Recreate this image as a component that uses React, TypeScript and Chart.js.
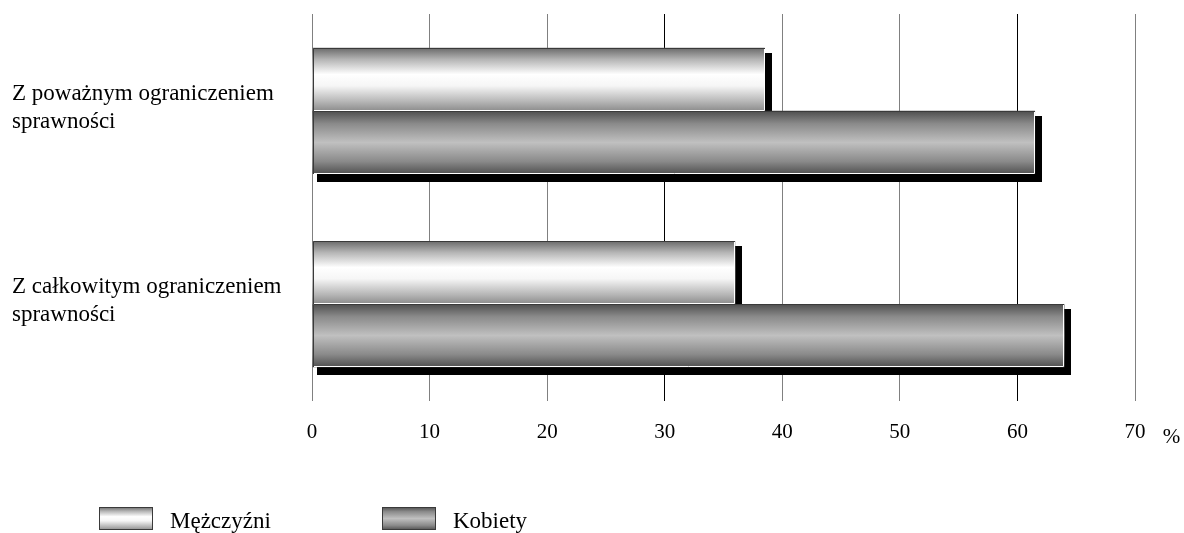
import React, { useEffect, useRef } from 'react';
import { Chart, registerables } from 'chart.js';

Chart.register(...registerables);

// ---- data ----
const categories = [
  ['Z poważnym ograniczeniem', 'sprawności'],
  ['Z całkowitym ograniczeniem', 'sprawności'],
];
const seriesNames = ['Mężczyźni', 'Kobiety'];
const menValues = [38.5, 36.0];
const womenValues = [61.5, 64.0];
const xMin = 0;
const xMax = 70;
const xStep = 10;
const unitLabel = '%';

// ---- styles ----
const FONT = "'Liberation Serif', 'Times New Roman', serif";
const gradStops: [number, string][][] = [
  [[0, '#6a6a6a'], [0.18, '#b4b4b4'], [0.42, '#ffffff'], [0.6, '#f6f6f6'], [0.85, '#b6b6b6'], [1, '#8c8c8c']],
  [[0, '#4e4e4e'], [0.2, '#8a8a8a'], [0.5, '#c0c0c0'], [0.8, '#8a8a8a'], [1, '#505050']],
];
const legendBoxX = [99, 382];
const legendTop = 507;
const legendBoxW = 54;
const legendBoxH = 23;

function makeGrad(ctx: CanvasRenderingContext2D, di: number, top: number, bottom: number) {
  const g = ctx.createLinearGradient(0, top, 0, bottom);
  gradStops[di].forEach(([o, c]) => g.addColorStop(o, c));
  return g;
}

function barRect(el: any) {
  const half = el.height / 2;
  const left = Math.round(Math.min(el.x, el.base));
  const right = Math.round(Math.max(el.x, el.base));
  const top = Math.round(el.y - half);
  const bottom = Math.round(el.y + half);
  return { left, right, top, bottom };
}

const barDecor = {
  id: 'barDecor',
  beforeDatasetsDraw(chart: any) {
    const ctx: CanvasRenderingContext2D = chart.ctx;
    ctx.save();
    chart.data.datasets.forEach((_: any, di: number) => {
      const meta = chart.getDatasetMeta(di);
      meta.data.forEach((el: any) => {
        const { left, right, top, bottom } = barRect(el);
        ctx.fillStyle = '#000';
        ctx.fillRect(left + 4, top + 5, right - left + 3, bottom - top + 3);
        el.options.backgroundColor = makeGrad(ctx, di, top, bottom);
      });
    });
    ctx.restore();
  },
  afterDatasetsDraw(chart: any) {
    const ctx: CanvasRenderingContext2D = chart.ctx;
    ctx.save();
    ctx.lineWidth = 1;
    chart.data.datasets.forEach((_: any, di: number) => {
      const meta = chart.getDatasetMeta(di);
      meta.data.forEach((el: any) => {
        const { left, right, top, bottom } = barRect(el);
        ctx.strokeStyle = '#3a3a3a';
        ctx.beginPath();
        ctx.moveTo(left + 0.5, bottom);
        ctx.lineTo(left + 0.5, top + 0.5);
        ctx.lineTo(right, top + 0.5);
        ctx.stroke();
        ctx.strokeStyle = '#ffffff';
        ctx.beginPath();
        ctx.moveTo(right - 0.5, top + 1);
        ctx.lineTo(right - 0.5, bottom - 0.5);
        ctx.lineTo(left + 1, bottom - 0.5);
        ctx.stroke();
      });
    });
    ctx.restore();
  },
  afterDraw(chart: any) {
    const ctx: CanvasRenderingContext2D = chart.ctx;
    ctx.save();
    // unit label
    const xs = chart.scales.x;
    ctx.fillStyle = '#000';
    ctx.font = `21px ${FONT}`;
    ctx.textAlign = 'center';
    ctx.textBaseline = 'middle';
    ctx.fillText(unitLabel, xs.getPixelForValue(xMax) + 36.5, 437);
    // legend
    chart.data.datasets.forEach((ds: any, di: number) => {
      const x = legendBoxX[di];
      ctx.fillStyle = makeGrad(ctx, di, legendTop, legendTop + legendBoxH);
      ctx.fillRect(x, legendTop, legendBoxW, legendBoxH);
      ctx.strokeStyle = '#3a3a3a';
      ctx.lineWidth = 1;
      ctx.strokeRect(x + 0.5, legendTop + 0.5, legendBoxW - 1, legendBoxH - 1);
      ctx.fillStyle = '#000';
      ctx.font = `23px ${FONT}`;
      ctx.textAlign = 'left';
      ctx.textBaseline = 'alphabetic';
      ctx.fillText(ds.label, x + 71, legendTop + 21);
    });
    ctx.restore();
  },
};

export default function App() {
  const ref = useRef<HTMLCanvasElement>(null);
  useEffect(() => {
    const chart = new Chart(ref.current as HTMLCanvasElement, {
      type: 'bar',
      data: {
        labels: categories as any,
        datasets: [
          { label: seriesNames[0], data: menValues, backgroundColor: () => '#dddddd', borderWidth: 0 },
          { label: seriesNames[1], data: womenValues, backgroundColor: () => '#999999', borderWidth: 0 },
        ],
      },
      options: {
        indexAxis: 'y',
        responsive: false,
        animation: false,
        devicePixelRatio: 1,
        layout: { padding: { left: 12, right: 49, top: 14, bottom: 72 } },
        datasets: { bar: { categoryPercentage: 0.651, barPercentage: 1 } } as any,
        plugins: { legend: { display: false }, tooltip: { enabled: false } },
        scales: {
          x: {
            type: 'linear',
            min: xMin,
            max: xMax,
            position: 'bottom',
            ticks: { stepSize: xStep, color: '#000', font: { family: FONT, size: 21 }, padding: 19, maxRotation: 0 },
            grid: {
              color: (c: any) => (c.tick && (c.tick.value === 30 || c.tick.value === 60) ? '#000000' : '#808080'),
              drawTicks: false,
              lineWidth: 1,
            },
            border: { display: false },
            afterFit: (s: any) => { s.height = 60; s.paddingLeft = 0; s.paddingRight = 0; },
          },
          y: {
            grid: { display: false },
            border: { display: false },
            ticks: { crossAlign: 'far', color: '#000', font: { family: FONT, size: 23, lineHeight: 1.2 }, labelOffset: -3, padding: 0 },
            afterFit: (s: any) => { s.width = 300; s.paddingTop = 0; s.paddingBottom = 0; },
          },
        },
      },
      plugins: [barDecor],
    });
    return () => chart.destroy();
  }, []);
  return (
    <canvas
      ref={ref}
      width={1184}
      height={533}
      style={{ position: 'fixed', left: 0, top: 0, width: '1184px', height: '533px' }}
    />
  );
}
